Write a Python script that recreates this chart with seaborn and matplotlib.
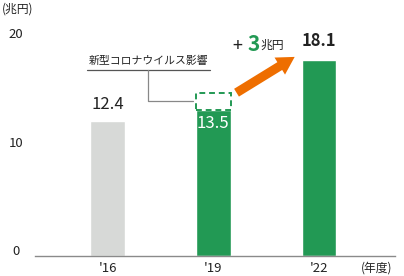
import matplotlib
matplotlib.use("Agg")
import matplotlib.pyplot as plt
import matplotlib.transforms as mtransforms
import seaborn as sns
import pandas as pd

# Market size (trillion yen) by fiscal year
years = ["'16", "'19", "'22"]
values = [12.4, 13.5, 18.1]
bar_colors = ["#d7d9d7", "#229954", "#229954"]
pre_covid_level = 15.0          # level before the COVID-19 impact in '19
growth_text = ["+", "3", "兆円"]
covid_label = "新型コロナウイルス影響"
y_ticks = [0, 10, 20]

GREEN = "#229954"
ORANGE = "#ee6e00"
TEXT = "#222222"

sns.set_theme(style="white")
plt.rcParams["font.family"] = ["Noto Sans CJK JP", "DejaVu Sans"]

fig = plt.figure(figsize=(4.04, 2.76), dpi=100)
ax = fig.add_axes([35 / 404, 1 - 256 / 276, 360 / 404, 227.85 / 276])

df = pd.DataFrame({"year": years, "value": values})
sns.barplot(data=df, x="year", y="value", hue="year", palette=bar_colors,
            width=0.33, legend=False, ax=ax, saturation=1)

ax.set_xlim(-0.6856, 2.7187)
ax.set_ylim(0, 21)
ax.set_xlabel("")
ax.set_ylabel("")

# axes styling
for side in ("left", "right", "top"):
    ax.spines[side].set_visible(False)
ax.spines["bottom"].set_color("#8a8a8a")
ax.spines["bottom"].set_linewidth(1.0)
ax.set_yticks(y_ticks)
ax.set_yticklabels([str(t) for t in y_ticks])
ax.tick_params(axis="y", length=0, pad=13.5, labelsize=9.5, labelcolor=TEXT)
ax.tick_params(axis="x", length=0, pad=4.5, labelsize=9.5, labelcolor=TEXT)
shift = mtransforms.ScaledTranslation(0, 4 / 72, fig.dpi_scale_trans)
for lab in ax.get_yticklabels():
    lab.set_ha("center")
    lab.set_transform(lab.get_transform() + shift)

# value labels
ax.text(0, values[0] + 0.8, f"{values[0]}", ha="center", va="bottom",
        fontsize=12, color=TEXT)
ax.text(1, values[1] - 0.5, f"{values[1]}", ha="center", va="top",
        fontsize=12, color="white")
ax.text(2, values[2] + 0.9, f"{values[2]}", ha="center", va="bottom",
        fontsize=12, color=TEXT, fontweight="bold")

# pre-COVID level shown as a dashed box on top of the '19 bar
ax.bar(1, pre_covid_level - values[1], bottom=values[1], width=0.33,
       fill=False, edgecolor=GREEN, linestyle=(0, (3, 2)), linewidth=1.4)

# callout for the COVID-19 impact
mid = (values[1] + pre_covid_level) / 2
ax.plot([-0.19, 0.97], [17.15, 17.15], color="#555555", lw=0.9)
ax.plot([0.38, 0.38, 0.81], [17.15, mid, mid], color="#888888", lw=0.9)
ax.text(0.39, 17.5, covid_label, ha="center", va="bottom", fontsize=7.8,
        color=TEXT)

# growth arrow from '19 level to '22
ax.annotate("", xy=(1.77, 18.35), xytext=(1.22, 15.05),
            arrowprops=dict(arrowstyle="simple,head_width=1.2,head_length=1.05,tail_width=0.55",
                            color=ORANGE, lw=0, shrinkA=0, shrinkB=0))

# "+3兆円" label
ax.text(1.185, 19.4, growth_text[0], ha="left", va="center", fontsize=13,
        color=TEXT)
ax.text(1.32, 19.5, growth_text[1], ha="left", va="center", fontsize=15,
        color=GREEN, fontweight="bold")
ax.text(1.45, 19.4, growth_text[2], ha="left", va="center", fontsize=8.5,
        color=TEXT)

# unit labels
fig.text(2 / 404, 1 - 9 / 276, "(兆円)", ha="left", va="center", fontsize=8.5,
         color=TEXT)
fig.text(361 / 404, 1 - 268 / 276, "(年度)", ha="left", va="center",
         fontsize=8.5, color=TEXT)

fig.savefig("out.png", dpi=100)
